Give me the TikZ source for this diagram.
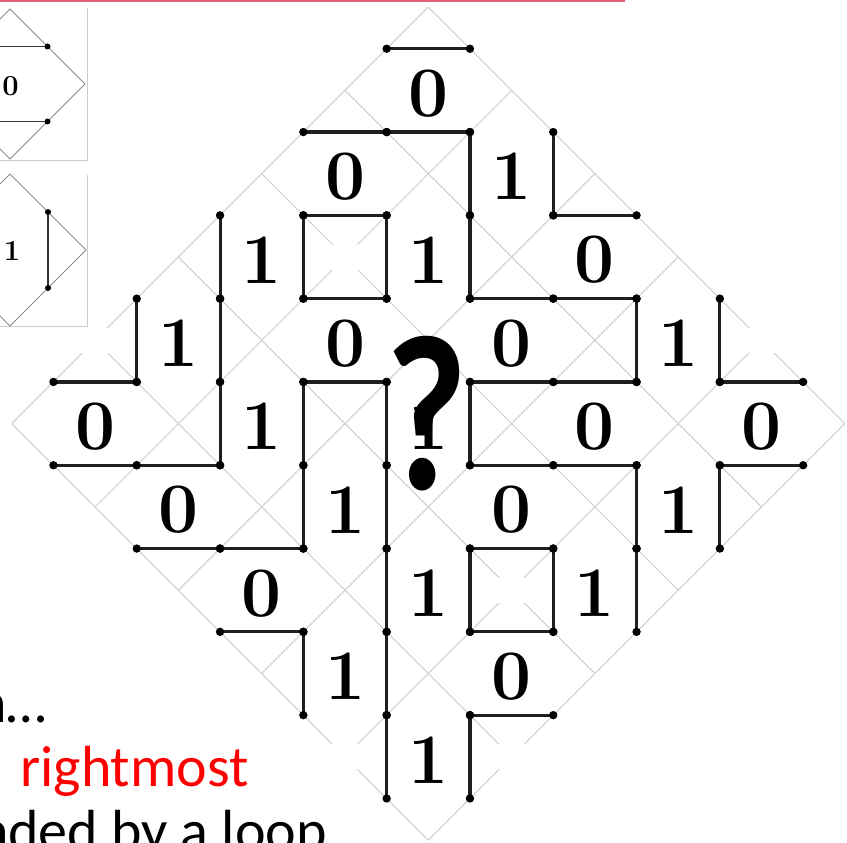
\documentclass[tikz,border=0pt]{standalone}
\usepackage{fontspec}
\newfontfamily\carlito{Carlito}
\definecolor{topred}{RGB}{228,96,116}
\tikzset{
  gridline/.style={draw=black!19, line width=1pt},
  seg/.style={draw=black!88, line width=3.1pt, line cap=round},
  dotfill/.style={fill=black},
  lab/.style={font=\fontsize{71}{71}\selectfont\bfseries, inner sep=0pt},
  smalllab/.style={font=\fontsize{29}{29}\selectfont\bfseries, inner sep=0pt},
  patch/.style={fill=white, draw=none, minimum width=28pt, minimum height=25pt, inner sep=0pt},
  panelframe/.style={draw=black!20, line width=0.9pt},
  paneledge/.style={draw=black!45, line width=0.8pt},
  panelseg/.style={draw=black!80, line width=1.9pt},
  txt/.style={font=\carlito\fontsize{58}{64}\selectfont, inner sep=0pt},
  qmark/.style={font=\carlito\bfseries\fontsize{222}{222}\selectfont, inner sep=0pt}
}
\begin{document}
\begin{tikzpicture}[x=1pt,y=-1pt]
\useasboundingbox (0,0) rectangle (847,843);
\fill[white] (0,0) rectangle (847,843);

% top red rule
\fill[topred] (0,0) rectangle (625,2.5);

% ---------- main diamond ----------
\begin{scope}[shift={(428.3,423.6)}, x=83.3pt, y=-83.3pt]
  % grey tile edges
  \foreach \k in {-5,-3,-1,1,3,5} {
    \draw[gridline] ({(\k-5)/2},{(\k+5)/2}) -- ({(\k+5)/2},{(\k-5)/2});
    \draw[gridline] ({(\k-5)/2},{(-5-\k)/2}) -- ({(\k+5)/2},{(5-\k)/2});
  }
  % white patches
  \node[patch] (p1) at (-1,-2) {};
  \node[patch] (p2) at (-4,-1) {};
  \node[patch] (p3) at (4,-1) {};
  \node[patch] (p4) at (-1,4) {};
  \node[patch] (p5) at (1,4) {};
  \node[patch] (p6) at (1,2) {};
  % dot coordinates
  \foreach \a in {0,...,9} {
    \foreach \b in {0,...,9} {
      \coordinate (d\a\b) at ({\a-4.5},{\b-4.5});
    }
  }
  % tiles
  \foreach \u/\v/\t in {0/-4/0, -1/-3/0, 1/-3/1, -2/-2/1, 0/-2/1, 2/-2/0,
      -3/-1/1, -1/-1/0, 1/-1/0, 3/-1/1, -4/0/0, -2/0/1, 0/0/1, 2/0/0, 4/0/0,
      -3/1/0, -1/1/1, 1/1/0, 3/1/1, -2/2/0, 0/2/1, 2/2/1, -1/3/1, 1/3/0, 0/4/1} {
    \pgfmathtruncatemacro{\i}{\u+4}
    \pgfmathtruncatemacro{\j}{\v+4}
    \pgfmathtruncatemacro{\ii}{\u+5}
    \pgfmathtruncatemacro{\jj}{\v+5}
    \ifnum\t=0
      \draw[seg] (d\i\j) -- (d\ii\j);
      \draw[seg] (d\i\jj) -- (d\ii\jj);
    \else
      \draw[seg] (d\i\j) -- (d\i\jj);
      \draw[seg] (d\ii\j) -- (d\ii\jj);
    \fi
    \fill[dotfill] (d\i\j) circle (4.2pt);
    \fill[dotfill] (d\ii\j) circle (4.2pt);
    \fill[dotfill] (d\i\jj) circle (4.2pt);
    \fill[dotfill] (d\ii\jj) circle (4.2pt);
    \node[lab, yshift=-3pt] (L\i\j) at (\u,\v) {\t};
  }
\end{scope}

% big question mark
\node[qmark, anchor=base] (q) at (427,489) {\scalebox{0.8}[1]{?}};

% ---------- small panels ----------
\draw[panelframe] (0,160) -- (87,160) -- (87,8);
\draw[paneledge] (10,9) -- (85,84) -- (10,159) -- (-65,84) -- cycle;
\coordinate (a1) at (-27.5,46.5);
\coordinate (a2) at (47.5,46.5);
\coordinate (a3) at (-27.5,121.5);
\coordinate (a4) at (47.5,121.5);
\draw[panelseg] (a1) -- (a2);
\draw[panelseg] (a3) -- (a4);
\fill (a2) circle (3pt);
\fill (a4) circle (3pt);
\node[smalllab] (s0) at (10.5,86) {0};

\draw[panelframe] (0,326) -- (87,326) -- (87,175);
\draw[paneledge] (10,174) -- (86,250) -- (10,326) -- (-66,250) -- cycle;
\coordinate (b1) at (48,212);
\coordinate (b2) at (48,288);
\draw[panelseg] (b1) -- (b2);
\fill (b1) circle (3pt);
\fill (b2) circle (3pt);
\node[smalllab] (s1) at (12,251) {1};

% ---------- text at bottom left ----------
\node[txt, anchor=base east] (t1) at (47,722) {n…};
\node[txt, anchor=base west, text=red] (t2) at (20,786) {rightmost};
\node[txt, anchor=base east] (t3) at (327,850) {nded by a loop};
\end{tikzpicture}
\end{document}
